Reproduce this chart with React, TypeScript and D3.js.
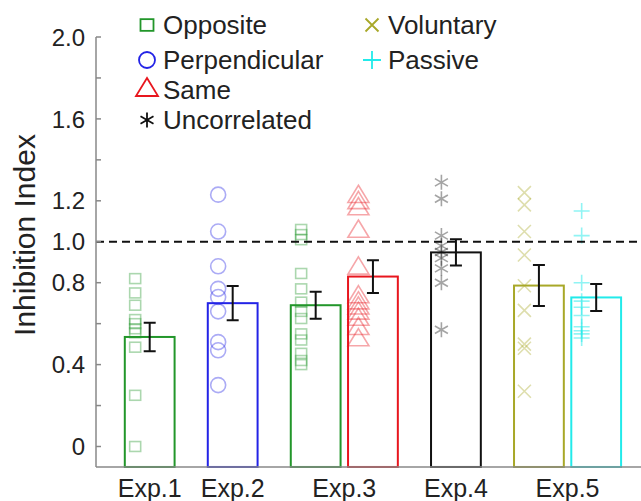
import { useEffect } from "react";
import * as d3 from "d3";

// experiment groups on the x axis
const experiments = ["Exp.1", "Exp.2", "Exp.3", "Exp.4", "Exp.5"];
const conditions = ["Opposite", "Perpendicular", "Same", "Uncorrelated", "Voluntary", "Passive"];

// one entry per bar
const barExp = ["Exp.1", "Exp.2", "Exp.3", "Exp.3", "Exp.4", "Exp.5", "Exp.5"];
const barCond = ["Opposite", "Perpendicular", "Opposite", "Same", "Uncorrelated", "Voluntary", "Passive"];
const barMean = [0.535, 0.7, 0.69, 0.83, 0.948, 0.786, 0.728];
const barSem = [0.07, 0.084, 0.066, 0.08, 0.064, 0.1, 0.066];

// individual subjects, per bar
const exp1Opposite = [0.82, 0.75, 0.69, 0.62, 0.6, 0.575, 0.555, 0.485, 0.25, 0.0];
const exp2Perpendicular = [1.23, 1.05, 0.88, 0.77, 0.73, 0.66, 0.51, 0.47, 0.3];
const exp3Opposite = [1.06, 1.035, 1.01, 0.845, 0.77, 0.705, 0.66, 0.625, 0.55, 0.52, 0.455, 0.42, 0.4];
const exp3Same = [1.22, 1.19, 1.16, 1.05, 0.87, 0.73, 0.7, 0.675, 0.65, 0.62, 0.575, 0.52];
const exp4Uncorrelated = [1.29, 1.21, 1.03, 0.98, 0.95, 0.92, 0.87, 0.8, 0.57];
const exp5Voluntary = [1.24, 1.18, 1.05, 0.935, 0.785, 0.665, 0.5, 0.48, 0.27];
const exp5Passive = [1.15, 1.03, 0.8, 0.71, 0.68, 0.64, 0.585, 0.565, 0.55, 0.53];
const subjects = [exp1Opposite, exp2Perpendicular, exp3Opposite, exp3Same, exp4Uncorrelated, exp5Voluntary, exp5Passive];

const yLabelTicks = [0, 0.4, 0.8, 1.0, 1.2, 1.6, 2.0];
const yMinorTicks = [0.2, 0.6, 1.4, 1.8];
const refLine = 1.0;

const colors: Record<string, string> = {
  Opposite: "#22962a",
  Perpendicular: "#2323e6",
  Same: "#e8161e",
  Uncorrelated: "#111111",
  Voluntary: "#a8a828",
  Passive: "#22eaea",
};
const shapes: Record<string, string> = {
  Opposite: "square",
  Perpendicular: "circle",
  Same: "triangle",
  Uncorrelated: "asterisk",
  Voluntary: "x",
  Passive: "plus",
};

const W = 641;
const H = 501;
const font = "'Liberation Sans', Arial, sans-serif";

function Marker({ shape, x, y, s, color, opacity = 1, sw = 1.6 }: any) {
  const common = { stroke: color, strokeWidth: sw, fill: "none", opacity };
  const h = s / 2;
  if (shape === "square")
    return <rect x={x - h} y={y - h * 0.9} width={s} height={s * 0.9} {...common} />;
  if (shape === "circle") return <circle cx={x} cy={y} r={h} {...common} />;
  if (shape === "triangle") {
    const th = s * 0.82;
    return (
      <path
        d={`M${x},${y - (th * 2) / 3}L${x + h},${y + th / 3}L${x - h},${y + th / 3}Z`}
        {...common}
      />
    );
  }
  if (shape === "asterisk") {
    const a = h * Math.cos(Math.PI / 6);
    const b = h * Math.sin(Math.PI / 6);
    return (
      <path
        d={`M${x},${y - h}V${y + h}M${x - a},${y - b}L${x + a},${y + b}M${x - a},${y + b}L${x + a},${y - b}`}
        {...common}
      />
    );
  }
  if (shape === "x")
    return <path d={`M${x - h},${y - h}L${x + h},${y + h}M${x - h},${y + h}L${x + h},${y - h}`} {...common} />;
  return <path d={`M${x - h},${y}H${x + h}M${x},${y - h}V${y + h}`} {...common} />;
}

export default function App() {
  useEffect(() => {
    document.body.style.margin = "0";
  }, []);

  const left = 96;
  // slot layout: groups one step apart, paired bars a bit closer
  const pairStep = 0.69;
  const slots: number[] = [];
  let cur = -1;
  barExp.forEach((e, i) => {
    cur = i > 0 && barExp[i - 1] === e ? cur + pairStep : cur + 1;
    slots.push(cur);
  });
  const x = d3.scaleLinear().domain([-0.647, 5.92]).range([left, W]);
  const y = d3.scaleLinear().domain([0, 2]).range([446.5, 37]);
  const barW = x(0.6) - x(0);
  const ptOff = x(-0.175) - x(0);
  const axisBottom = y(-0.1);

  const expCenter = experiments.map((e) => {
    const s = slots.filter((_, i) => barExp[i] === e);
    return d3.mean(s) ?? 0;
  });

  const ptSize: Record<string, number> = {
    square: 11,
    circle: 15,
    triangle: 21,
    asterisk: 15,
    x: 13,
    plus: 16,
  };
  const legSize: Record<string, number> = {
    square: 13,
    circle: 16,
    triangle: 22,
    asterisk: 15,
    x: 13,
    plus: 18,
  };
  const legendPos = [
    [147, 25],
    [147, 60],
    [147, 90],
    [147, 120],
    [372, 25],
    [372, 60],
  ];

  return (
    <svg width={W} height={H} style={{ display: "block", background: "#fff" }} fontFamily={font}>
      {/* subject points */}
      {subjects.map((vals, i) =>
        vals.map((v, j) => (
          <Marker
            key={`p${i}-${j}`}
            shape={shapes[barCond[i]]}
            x={x(slots[i]) + ptOff}
            y={y(v)}
            s={ptSize[shapes[barCond[i]]]}
            color={colors[barCond[i]]}
            opacity={barCond[i] === "Passive" ? 0.5 : 0.38}
            sw={1.6}
          />
        )),
      )}

      {/* bars */}
      {barMean.map((m, i) => (
        <rect
          key={`b${i}`}
          x={x(slots[i]) - barW / 2}
          y={y(m)}
          width={barW}
          height={axisBottom - y(m)}
          fill="none"
          stroke={colors[barCond[i]]}
          strokeWidth={2}
        />
      ))}

      {/* error bars */}
      {barMean.map((m, i) => {
        const cx = x(slots[i]);
        const y1 = y(m + barSem[i]);
        const y2 = y(m - barSem[i]);
        return (
          <path
            key={`e${i}`}
            d={`M${cx - 6},${y1}H${cx + 6}M${cx},${y1}V${y2}M${cx - 6},${y2}H${cx + 6}`}
            stroke="#111"
            strokeWidth={2}
            fill="none"
          />
        );
      })}

      {/* reference line */}
      <line x1={left} x2={W} y1={y(refLine)} y2={y(refLine)} stroke="#111" strokeWidth={2} strokeDasharray="8,5" />

      {/* axes */}
      <line x1={left} x2={left} y1={y(2)} y2={axisBottom} stroke="#888" strokeWidth={1.5} />
      <line x1={left} x2={W} y1={axisBottom} y2={axisBottom} stroke="#888" strokeWidth={1.5} />
      {[...yLabelTicks, ...yMinorTicks].map((t) => (
        <line key={`t${t}`} x1={left} x2={left + 5} y1={y(t)} y2={y(t)} stroke="#888" strokeWidth={1.5} />
      ))}
      {yLabelTicks.map((t) => (
        <text key={`l${t}`} x={85} y={y(t)} dy="0.36em" textAnchor="end" fontSize={24} fill="#222">
          {t === 0 ? "0" : d3.format(".1f")(t)}
        </text>
      ))}
      <text
        transform={`translate(35,${235}) rotate(-90)`}
        textAnchor="middle"
        fontSize={30}
        fill="#222"
      >
        Inhibition Index
      </text>
      {experiments.map((e, i) => (
        <text key={e} x={x(expCenter[i])} y={497} textAnchor="middle" fontSize={25} fill="#222">
          {e}
        </text>
      ))}

      {/* legend */}
      {conditions.map((c, i) => (
        <g key={c}>
          <Marker
            shape={shapes[c]}
            x={legendPos[i][0]}
            y={legendPos[i][1]}
            s={legSize[shapes[c]]}
            color={colors[c]}
            sw={1.8}
          />
          <text x={legendPos[i][0] + 16} y={legendPos[i][1]} dy="0.36em" fontSize={26} fill="#222">
            {c}
          </text>
        </g>
      ))}
    </svg>
  );
}
